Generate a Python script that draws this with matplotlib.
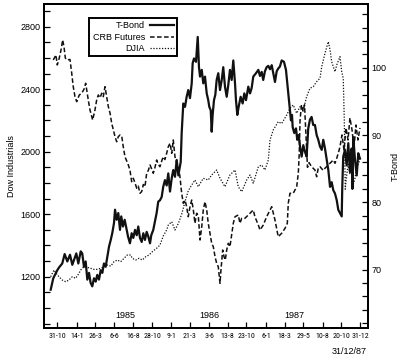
import numpy as np
import pandas as pd
import matplotlib
matplotlib.use('Agg')
import matplotlib.pyplot as plt
from matplotlib.ticker import MultipleLocator

plt.rcParams['font.family'] = ['Liberation Sans', 'DejaVu Sans']
narrow = ['Roboto Condensed', 'Liberation Sans Narrow', 'Liberation Sans', 'DejaVu Sans']

# x values are decimal years
tbond_yr = [1984.762, 1984.789, 1984.831, 1984.849, 1984.883, 1984.908, 1984.936, 1984.964,
            1984.988, 1985.030, 1985.051, 1985.076, 1985.092, 1985.110, 1985.128, 1985.145,
            1985.163, 1985.180, 1985.197, 1985.215, 1985.233, 1985.249, 1985.267, 1985.285,
            1985.302, 1985.319, 1985.337, 1985.354, 1985.372, 1985.390, 1985.406, 1985.424,
            1985.435, 1985.452, 1985.469, 1985.487, 1985.500, 1985.518, 1985.536, 1985.557,
            1985.571, 1985.591, 1985.609, 1985.626, 1985.644, 1985.662, 1985.678, 1985.696,
            1985.714, 1985.731, 1985.748, 1985.766, 1985.783, 1985.801, 1985.814, 1985.835,
            1985.870, 1985.887, 1985.905, 1985.923, 1985.939, 1985.957, 1985.975, 1985.992,
            1986.010, 1986.028, 1986.044, 1986.062, 1986.080, 1986.097, 1986.122, 1986.132,
            1986.149, 1986.167, 1986.184, 1986.201, 1986.219, 1986.237, 1986.247, 1986.261,
            1986.282, 1986.300, 1986.313, 1986.324, 1986.342, 1986.358, 1986.376, 1986.394,
            1986.410, 1986.421, 1986.436, 1986.446, 1986.456, 1986.470, 1986.484, 1986.498,
            1986.515, 1986.533, 1986.551, 1986.567, 1986.585, 1986.603, 1986.620, 1986.637,
            1986.655, 1986.672, 1986.690, 1986.700, 1986.714, 1986.728, 1986.749, 1986.770,
            1986.787, 1986.805, 1986.829, 1986.847, 1986.864, 1986.881, 1986.909, 1986.934,
            1986.951, 1986.969, 1986.985, 1987.003, 1987.021, 1987.038, 1987.056, 1987.074,
            1987.090, 1987.108, 1987.126, 1987.142, 1987.160, 1987.178, 1987.202, 1987.223,
            1987.237, 1987.251, 1987.265, 1987.275, 1987.286, 1987.293, 1987.310, 1987.328,
            1987.341, 1987.356, 1987.370, 1987.387, 1987.404, 1987.422, 1987.439, 1987.456,
            1987.474, 1987.491, 1987.508, 1987.526, 1987.544, 1987.561, 1987.579, 1987.597,
            1987.613, 1987.631, 1987.649, 1987.666, 1987.684, 1987.701, 1987.718, 1987.736,
            1987.754, 1987.770, 1987.788, 1987.806, 1987.812, 1987.822, 1987.840, 1987.858,
            1987.875, 1987.892, 1987.910, 1987.918, 1987.927, 1987.945, 1987.963, 1987.979,
            1987.997]
tbond_val = [67.0, 68.7, 69.9, 70.3, 70.9, 72.3, 71.2, 72.2,
             70.7, 72.4, 70.9, 72.7, 72.4, 70.4, 71.2, 68.5,
             69.5, 68.0, 67.5, 68.7, 68.2, 69.2, 68.5, 69.9,
             69.5, 70.9, 70.4, 71.9, 73.4, 74.4, 75.4, 76.9,
             78.9, 77.4, 78.4, 75.9, 77.9, 76.4, 77.4, 75.9,
             74.9, 73.9, 75.4, 74.7, 75.9, 75.1, 76.4, 74.7,
             74.1, 75.4, 74.4, 75.6, 74.9, 73.9, 75.1, 75.9,
             78.4, 80.1, 80.3, 80.8, 82.3, 83.3, 82.5, 84.3,
             81.6, 83.6, 84.8, 83.8, 86.3, 84.0, 86.0, 90.3,
             94.7, 94.2, 95.7, 96.7, 95.5, 97.7, 100.7, 101.4,
             100.9, 104.6, 100.1, 98.7, 99.7, 97.7, 98.7, 96.2,
             95.2, 94.2, 93.7, 90.5, 93.0, 95.2, 96.0, 98.2,
             99.2, 96.7, 98.2, 100.1, 97.2, 95.7, 97.5, 99.7,
             98.2, 101.1, 97.7, 95.2, 93.0, 94.2, 95.7, 94.7,
             96.2, 95.2, 97.2, 96.2, 97.0, 98.7, 99.2, 99.7,
             98.8, 99.4, 98.2, 99.5, 100.1, 100.3, 99.8, 100.4,
             99.2, 97.9, 99.5, 99.9, 100.2, 101.1, 100.9, 99.7,
             97.7, 95.7, 93.7, 92.2, 93.0, 91.2, 90.3, 91.0,
             89.3, 90.0, 88.3, 86.8, 88.5, 87.5, 86.8, 91.0,
             92.3, 92.7, 91.5, 91.5, 90.0, 89.3, 88.3, 87.8,
             89.3, 88.0, 86.3, 84.8, 82.3, 83.0, 81.8, 81.3,
             80.3, 78.9, 78.4, 77.9, 82.3, 86.8, 87.8, 85.5,
             88.8, 84.5, 88.0, 82.0, 89.7, 86.3, 84.0, 87.3,
             86.5]

crb_yr = [1984.789, 1984.817, 1984.831, 1984.852, 1984.870, 1984.887, 1984.901, 1984.915,
          1984.929, 1984.964, 1984.982, 1984.998, 1985.016, 1985.034, 1985.061, 1985.086,
          1985.110, 1985.128, 1985.139, 1985.155, 1985.173, 1985.201, 1985.225, 1985.243,
          1985.260, 1985.278, 1985.296, 1985.312, 1985.330, 1985.348, 1985.365, 1985.383,
          1985.400, 1985.417, 1985.435, 1985.452, 1985.469, 1985.487, 1985.505, 1985.521,
          1985.539, 1985.557, 1985.574, 1985.591, 1985.609, 1985.626, 1985.644, 1985.662,
          1985.678, 1985.696, 1985.714, 1985.731, 1985.748, 1985.766, 1985.783, 1985.801,
          1985.818, 1985.835, 1985.853, 1985.870, 1985.887, 1985.905, 1985.923, 1985.939,
          1985.957, 1985.975, 1985.992, 1986.010, 1986.028, 1986.044, 1986.062, 1986.080,
          1986.097, 1986.114, 1986.132, 1986.149, 1986.167, 1986.184, 1986.201, 1986.219,
          1986.237, 1986.254, 1986.271, 1986.289, 1986.306, 1986.324, 1986.342, 1986.358,
          1986.376, 1986.394, 1986.410, 1986.428, 1986.446, 1986.463, 1986.481, 1986.498,
          1986.515, 1986.533, 1986.543, 1986.561, 1986.575, 1986.588, 1986.603, 1986.620,
          1986.637, 1986.655, 1986.672, 1986.690, 1986.724, 1986.742, 1986.760, 1986.794,
          1986.829, 1986.864, 1986.881, 1986.898, 1986.934, 1986.951, 1986.985, 1987.021,
          1987.056, 1987.074, 1987.108, 1987.142, 1987.178, 1987.213, 1987.237, 1987.247,
          1987.265, 1987.299, 1987.335, 1987.352, 1987.362, 1987.370, 1987.385, 1987.401,
          1987.417, 1987.432, 1987.448, 1987.464, 1987.491, 1987.526, 1987.544, 1987.561,
          1987.579, 1987.613, 1987.631, 1987.666, 1987.701, 1987.718, 1987.736, 1987.754,
          1987.770, 1987.788, 1987.809, 1987.830, 1987.851, 1987.872, 1987.892, 1987.914,
          1987.934, 1987.955, 1987.976, 1987.997]
# CRB futures, drawn on the Dow scale as in the original
crb_val = [2587, 2619, 2555, 2600, 2651, 2715, 2672, 2600,
           2587, 2590, 2502, 2416, 2352, 2320, 2363, 2374,
           2399, 2438, 2395, 2331, 2267, 2203, 2267, 2331,
           2363, 2345, 2374, 2352, 2416, 2352, 2288, 2246,
           2182, 2139, 2096, 2064, 2096, 2107, 2100, 2032,
           1968, 1940, 1915, 1883, 1808, 1830, 1800, 1766,
           1780, 1734, 1745, 1790, 1776, 1862, 1880, 1915,
           1890, 1862, 1900, 1947, 1920, 1904, 1940, 1968,
           1950, 1990, 2032, 2054, 1990, 2075, 1968, 1926,
           1915, 1840, 1734, 1670, 1690, 1648, 1584, 1648,
           1691, 1627, 1542, 1606, 1590, 1435, 1520, 1627,
           1680, 1627, 1542, 1478, 1414, 1392, 1328, 1286,
           1264, 1158, 1243, 1371, 1328, 1307, 1371, 1414,
           1392, 1467, 1542, 1584, 1595, 1542, 1574, 1574,
           1595, 1616, 1627, 1584, 1531, 1499, 1530, 1584,
           1627, 1648, 1563, 1456, 1478, 1510, 1542, 1670,
           1734, 1734, 1776, 1862, 1990, 2200, 2300, 2260,
           2300, 2100, 1900, 1930, 1904, 1883, 1840, 1896,
           1904, 1880, 1894, 1915, 1936, 1947, 1926, 1958,
           1990, 2032, 2107, 2011, 2152, 2075, 2216, 2139,
           2024, 2171, 2075, 2152]

djia_yr = [1984.762, 1984.796, 1984.828, 1984.849, 1984.883, 1984.919, 1984.953, 1984.988,
           1985.023, 1985.058, 1985.076, 1985.110, 1985.145, 1985.180, 1985.215, 1985.249,
           1985.285, 1985.319, 1985.354, 1985.390, 1985.424, 1985.459, 1985.494, 1985.529,
           1985.563, 1985.599, 1985.615, 1985.651, 1985.686, 1985.720, 1985.756, 1985.790,
           1985.825, 1985.870, 1985.905, 1985.939, 1985.975, 1985.992, 1986.028, 1986.062,
           1986.097, 1986.132, 1986.167, 1986.201, 1986.237, 1986.271, 1986.306, 1986.358,
           1986.410, 1986.446, 1986.498, 1986.533, 1986.585, 1986.637, 1986.690, 1986.724,
           1986.760, 1986.812, 1986.847, 1986.881, 1986.934, 1986.969, 1987.003, 1987.038,
           1987.056, 1987.090, 1987.142, 1987.178, 1987.231, 1987.265, 1987.299, 1987.335,
           1987.370, 1987.404, 1987.439, 1987.474, 1987.508, 1987.544, 1987.579, 1987.597,
           1987.631, 1987.666, 1987.684, 1987.701, 1987.718, 1987.736, 1987.754, 1987.788,
           1987.806, 1987.822, 1987.833, 1987.843, 1987.858, 1987.875, 1987.892, 1987.910,
           1987.927, 1987.945, 1987.963, 1987.979, 1987.997]
djia_val = [1200, 1243, 1215, 1200, 1179, 1168, 1179, 1200,
            1190, 1222, 1243, 1264, 1260, 1254, 1247, 1247,
            1254, 1264, 1275, 1268, 1296, 1307, 1296, 1318,
            1339, 1339, 1318, 1307, 1318, 1307, 1328, 1339,
            1360, 1382, 1403, 1460, 1499, 1531, 1552, 1499,
            1540, 1600, 1680, 1750, 1787, 1819, 1776, 1830,
            1819, 1851, 1883, 1830, 1776, 1851, 1883, 1776,
            1744, 1819, 1851, 1798, 1904, 1915, 1883, 1947,
            2075, 2139, 2192, 2180, 2235, 2278, 2299, 2246,
            2288, 2267, 2352, 2406, 2416, 2448, 2470, 2544,
            2630, 2704, 2651, 2576, 2544, 2512, 2555, 2608,
            2512, 2470, 2200, 1760, 1850, 1920, 1860, 1950,
            1790, 1830, 1900, 1920, 1950]

tick_dates = ['1984-10-31', '1985-01-14', '1985-03-26', '1985-06-06', '1985-08-16',
              '1985-10-28', '1986-01-09', '1986-03-21', '1986-06-03', '1986-08-13',
              '1986-10-23', '1987-01-06', '1987-03-18', '1987-05-29', '1987-08-10',
              '1987-10-20', '1987-12-31']
year_labels = ['1985', '1986', '1987']
year_label_x = [1985.539, 1986.418, 1987.307]


def dec_year(d):
    ts = pd.Timestamp(d)
    n = 366 if ts.is_leap_year else 365
    return ts.year + (ts.dayofyear - 1) / n


tick_x = [dec_year(d) for d in tick_dates]
tick_lbl = ['%d-%d' % (pd.Timestamp(d).day, pd.Timestamp(d).month) for d in tick_dates]

fig = plt.figure(figsize=(4, 3.61), dpi=100)
ax = fig.add_axes([0.11, 0.0914, 0.81, 0.8975])
ax2 = ax.twinx()

ln_crb, = ax.plot(crb_yr, crb_val, color='#111111', lw=1.1,
                  linestyle=(0, (3, 1.6)), label='CRB Futures')
ln_dj, = ax.plot(djia_yr, djia_val, color='#111111', lw=0.9,
                 linestyle=(0, (1, 1.3)), label='DJIA')
ln_tb, = ax2.plot(tbond_yr, tbond_val, color='#111111', lw=1.6,
                  label='T-Bond')

ax.set_xlim(1984.692, 1988.081)
ax.set_ylim(872, 2945)
ax2.set_ylim(61.3, 109.5)

ax.set_xticks(tick_x)
ax.set_xticklabels(tick_lbl, family=narrow)
ax.yaxis.set_major_locator(MultipleLocator(400))
ax.yaxis.set_minor_locator(MultipleLocator(100))
ax2.yaxis.set_major_locator(MultipleLocator(10))
ax2.yaxis.set_minor_locator(MultipleLocator(2))

for a in (ax, ax2):
    a.tick_params(which='both', direction='in', length=4, width=0.9,
                  labelsize=6.5, pad=2.5)
    for s in a.spines.values():
        s.set_linewidth(1.4)
ax.tick_params(axis='x', pad=3.5)

ax.set_ylabel('Dow Industrials', fontsize=6.5, labelpad=3)
ax2.set_ylabel('T-Bond', fontsize=6.5, labelpad=3)

for lbl, xv in zip(year_labels, year_label_x):
    ax.text(xv, 0.04, lbl, transform=ax.get_xaxis_transform(),
            ha='center', va='center', fontsize=6.5)
fig.text(0.8725, 0.025, '31/12/87', ha='center', va='center', fontsize=6.5)

leg = ax2.legend([ln_tb, ln_crb, ln_dj], ['T-Bond', 'CRB Futures', 'DJIA'],
                 loc='upper left', bbox_to_anchor=(0.14, 0.956),
                 borderaxespad=0, markerfirst=False, fancybox=False,
                 framealpha=1, edgecolor='black', fontsize=6.5,
                 handlelength=2.6, labelspacing=0.25, borderpad=0.35,
                 handletextpad=0.6)
leg.get_frame().set_linewidth(1.4)

# shrink the date labels until neighbours no longer touch
fig.canvas.draw()
renderer = fig.canvas.get_renderer()
step = (ax.transData.transform((tick_x[-1], 0))[0]
        - ax.transData.transform((tick_x[0], 0))[0]) / (len(tick_x) - 1)
widest = max(t.get_window_extent(renderer).width for t in ax.get_xticklabels())
if widest > step - 1.5:
    size = 6.5 * (step - 1.5) / widest
    for t in ax.get_xticklabels():
        t.set_fontsize(size)

fig.savefig('out.png', dpi=100)
